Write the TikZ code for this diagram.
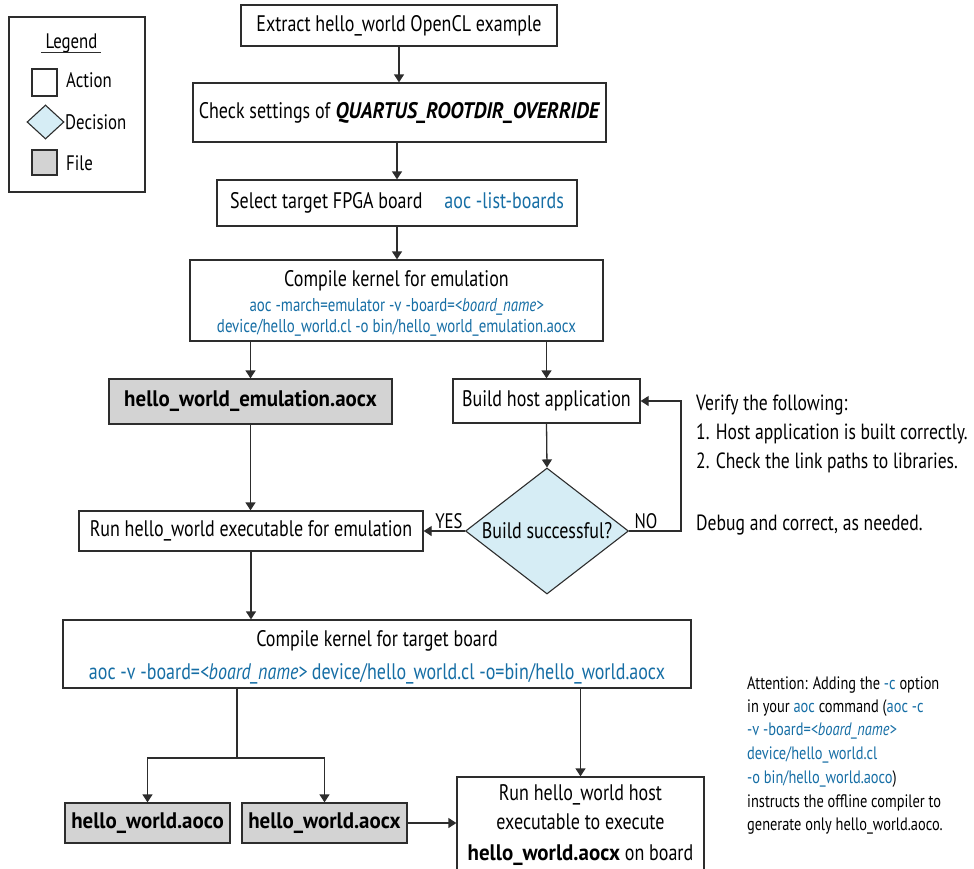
\documentclass[tikz,border=0pt]{standalone}
\usepackage{fontspec}
\setmainfont{PT Sans}[FakeStretch=0.8, BoldFeatures={FakeStretch=0.93}, BoldItalicFeatures={FakeStretch=0.9}]
\usetikzlibrary{shapes.geometric,arrows.meta}
\definecolor{cmd}{RGB}{22,110,165}
\definecolor{linecol}{RGB}{45,45,45}
\definecolor{filegray}{RGB}{211,211,211}
\definecolor{decblue}{RGB}{214,237,245}
\begin{document}
\begin{tikzpicture}[x=1pt,y=-1pt,
  every node/.style={font=\fontsize{22.5}{27}\selectfont, text=black, inner sep=0pt},
  box/.style={draw=linecol, line width=1.3pt, fill=white},
  filebox/.style={box, fill=filegray, font=\bfseries\fontsize{22.5}{27}\selectfont},
  dec/.style={diamond, draw=linecol, line width=1.1pt, fill=decblue, inner sep=0pt},
  conn/.style={draw=linecol, line width=1.3pt},
  arr/.style={conn, -{Triangle[length=8pt,width=10pt]}},
  cmdsmall/.style={font=\fontsize{18.6}{22}\selectfont, text=cmd, anchor=base},
  cmdtxt/.style={font=\fontsize{22.5}{27}\selectfont, text=cmd, anchor=base},
  line/.style={anchor=base},
  legtxt/.style={font=\fontsize{21}{26}\selectfont},
  note/.style={font=\fontsize{18}{22}\selectfont, anchor=base west},
  side/.style={font=\fontsize{22}{26}\selectfont, anchor=base west},
]
\useasboundingbox (0,0) rectangle (974,868);

% Legend
\node[box, minimum width=136pt, minimum height=175pt] (leg) at (77,104.5) {};
\node[legtxt, anchor=base] (legt) at (71.5,48) {Legend};
\draw[line width=1pt, draw=linecol] ([xshift=-4pt,yshift=-4.5pt]legt.base west) -- ([xshift=3pt,yshift=-4.5pt]legt.base east);
\node[box, minimum width=25pt, minimum height=27pt] (legA) at (44.5,82.5) {};
\node[side, legtxt] (legAt) at (66,87) {Action};
\node[dec, minimum width=37pt, minimum height=34pt] (legD) at (45.5,122) {};
\node[side, legtxt] (legDt) at (65,129) {Decision};
\node[filebox, minimum width=25pt, minimum height=25pt] (legF) at (44.5,162.5) {};
\node[side, legtxt] (legFt) at (66,170) {File};

% Main boxes
\node[box, minimum width=316pt, minimum height=41pt] (b1) at (399,25.5) {Extract hello\_world OpenCL example};
\node[box, minimum width=413pt, minimum height=59pt] (b2) at (399.5,112.5) {Check settings of \textbf{\textit{QUARTUS\_ROOTDIR\_OVERRIDE}}};
\node[box, minimum width=360pt, minimum height=46pt] (b3) at (397,203) {Select target FPGA board\hspace{22pt}{\color{cmd}aoc -list-boards}};

\node[box, minimum width=413pt, minimum height=81pt] (b4) at (396.5,300.5) {};
\node[line] (b4a) at (396.5,286) {Compile kernel for emulation};
\node[cmdsmall] (b4b) at (396.5,311) {aoc -march=emulator -v -board=\textit{<board\_name>}};
\node[cmdsmall] (b4c) at (396.5,332) {device/hello\_world.cl -o bin/hello\_world\_emulation.aocx};

\node[filebox, minimum width=283pt, minimum height=45pt] (fEmu) at (250.5,401.5) {hello\_world\_emulation.aocx};
\node[box, minimum width=187pt, minimum height=44pt] (host) at (546.5,401) {Build host application};

\node[dec, minimum width=163pt, minimum height=126pt] (dec) at (547,531) {};
\node (dect) at (547,531) {Build successful?};

\node[box, minimum width=344pt, minimum height=40pt] (runEmu) at (251,531) {Run hello\_world executable for emulation};

\node[box, minimum width=628pt, minimum height=68pt] (b5) at (377,654) {};
\node[line] (b5a) at (377,646) {Compile kernel for target board};
\node[cmdtxt] (b5b) at (377,679) {aoc -v -board=\textit{<board\_name>} device/hello\_world.cl -o=bin/hello\_world.aocx};

\node[filebox, minimum width=165pt, minimum height=40pt] (fAoco) at (147.5,823) {hello\_world.aoco};
\node[filebox, minimum width=165pt, minimum height=40pt] (fAocx) at (324.5,823) {hello\_world.aocx};

\node[box, minimum width=247pt, minimum height=110pt] (run) at (580.5,832) {};
\node[line] (runa) at (580.5,800) {Run hello\_world host};
\node[line] (runb) at (580.5,829) {executable to execute};
\node[line] (runc) at (580.5,860) {\textbf{hello\_world.aocx} on board};

% Side texts
\node[side] (v1) at (696,410) {Verify the following:};
\node[side] (v2) at (696,439) {1. Host application is built correctly.};
\node[side] (v3) at (696,468) {2. Check the link paths to libraries.};
\node[side] (v4) at (696,530) {Debug and correct, as needed.};

\node[note] (n1) at (747,689) {Attention: Adding the {\color{cmd}-c} option};
\node[note] (n2) at (747,712) {in your {\color{cmd}aoc} command ({\color{cmd}aoc -c}};
\node[note] (n3) at (747,735) {\color{cmd}-v -board=\textit{<board\_name>}};
\node[note] (n4) at (747,759) {\color{cmd}device/hello\_world.cl};
\node[note] (n5) at (747,783) {{\color{cmd}-o bin/hello\_world.aoco})};
\node[note] (n6) at (747,807) {instructs the offline compiler to};
\node[note] (n7) at (747,830) {generate only hello\_world.aoco.};

% Connectors
\draw[arr] (b1.south) -- (b1.south |- b2.north);
\draw[arr] (b2.south -| b3.north) -- (b3.north);
\draw[arr] (b3.south) -- (b3.south |- b4.north);
\draw[arr] (b4.south -| fEmu.north) -- (fEmu.north);
\draw[arr] (b4.south -| host.north) -- (host.north);
\draw[arr] (fEmu.south) -- (fEmu.south |- runEmu.north);
\draw[arr] (host.south) -- (dec.north);
\draw[arr] (dec.west) -- (runEmu.east);
\node[legtxt, anchor=base] (yes) at (449,528) {YES};
\node[legtxt, anchor=base] (no) at (646,528) {NO};
\coordinate (nc) at (681,531);
\draw[arr] (dec.east) -- (nc) |- (host.east);
\draw[arr] (runEmu.south) -- (runEmu.south |- b5.north);
\coordinate (sp) at (237,758);
\draw[conn] (sp |- b5.south) -- (sp);
\draw[arr] (sp) -| (fAoco.north);
\draw[arr] (sp) -| (fAocx.north);
\draw[arr] (b5.south -| run.north) -- (run.north);
\draw[arr] (fAocx.east) -- (fAocx.east -| run.west);
\end{tikzpicture}
\end{document}
